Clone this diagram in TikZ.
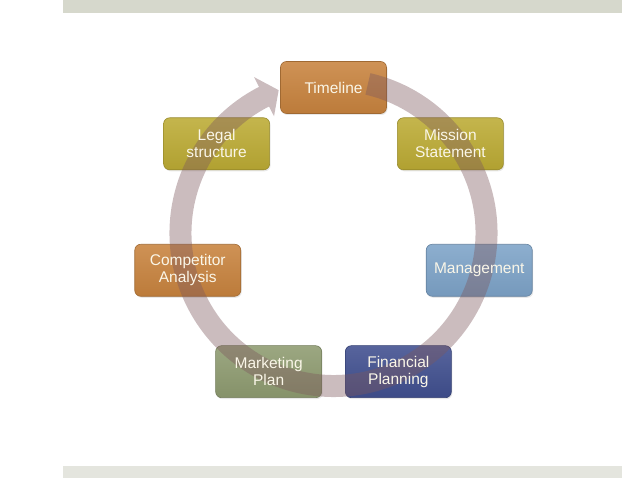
\documentclass[tikz,border=0pt]{standalone}
\usepackage{fontspec}
\setmainfont{Liberation Sans}
\usetikzlibrary{shadows}
\definecolor{topbar}{RGB}{214,216,204}
\definecolor{botbar}{RGB}{228,229,222}
\definecolor{cOrange}{RGB}{200,131,62}
\definecolor{cOlive}{RGB}{188,171,52}
\definecolor{cLBlue}{RGB}{125,163,200}
\definecolor{cDBlue}{RGB}{64,79,143}
\definecolor{cSage}{RGB}{142,155,112}
\definecolor{ringc}{RGB}{125,88,93}
\definecolor{txt}{RGB}{250,246,232}
\begin{document}
\begin{tikzpicture}[x=1pt,y=1pt,
  box/.style={rounded corners=6pt, minimum width=106pt, minimum height=52pt,
    draw=#1!80!black, line width=0.6pt, top color=#1!88!white, bottom color=#1!94!black,
    drop shadow={opacity=0.18, shadow xshift=1pt, shadow yshift=-1.5pt}},
  lbl/.style={text=txt, font=\fontsize{15.5}{17}\selectfont, align=center, inner sep=0pt},
  ring/.style={fill=ringc, opacity=0.4}]
\useasboundingbox (0,0) rectangle (638,479);
\fill[topbar] (63,466) rectangle (622,479);
\fill[botbar] (63,1) rectangle (622,13);
\coordinate (hc) at (333.5,242);
\coordinate (c) at (333.5,246);
% boxes
\node[box=cOrange] (timeline) at ([shift={(90:149.5)}]hc) {};
\node[box=cOlive] (mission) at ([shift={(38.57:149.5)}]hc) {};
\node[box=cLBlue] (management) at ([shift={(-12.86:149.5)}]hc) {};
\node[box=cDBlue] (financial) at ([shift={(-64.29:149.5)}]hc) {};
\node[box=cSage] (marketing) at ([shift={(-115.71:149.5)}]hc) {};
\node[box=cOrange] (competitor) at ([shift={(-167.14:149.5)}]hc) {};
\node[box=cOlive] (legal) at ([shift={(141.43:149.5)}]hc) {};
% circular arrow
\fill[ring] ([shift={(77:164)}]c) arc[start angle=77, end angle=-243, radius=164]
  -- ([shift={(-243:175)}]c) -- ([shift={(-249:153)}]c) -- ([shift={(-243:131)}]c)
  -- ([shift={(-243:142)}]c) arc[start angle=-243, end angle=77, radius=142] -- cycle;
% labels
\node[lbl] (timelineT) at (timeline) {Timeline};
\node[lbl] (missionT) at (mission) {Mission\\Statement};
\node[lbl] (managementT) at (management) {Management};
\node[lbl] (financialT) at (financial) {Financial\\Planning};
\node[lbl] (marketingT) at (marketing) {Marketing\\Plan};
\node[lbl] (competitorT) at (competitor) {Competitor\\Analysis};
\node[lbl] (legalT) at (legal) {Legal\\structure};
\end{tikzpicture}
\end{document}
